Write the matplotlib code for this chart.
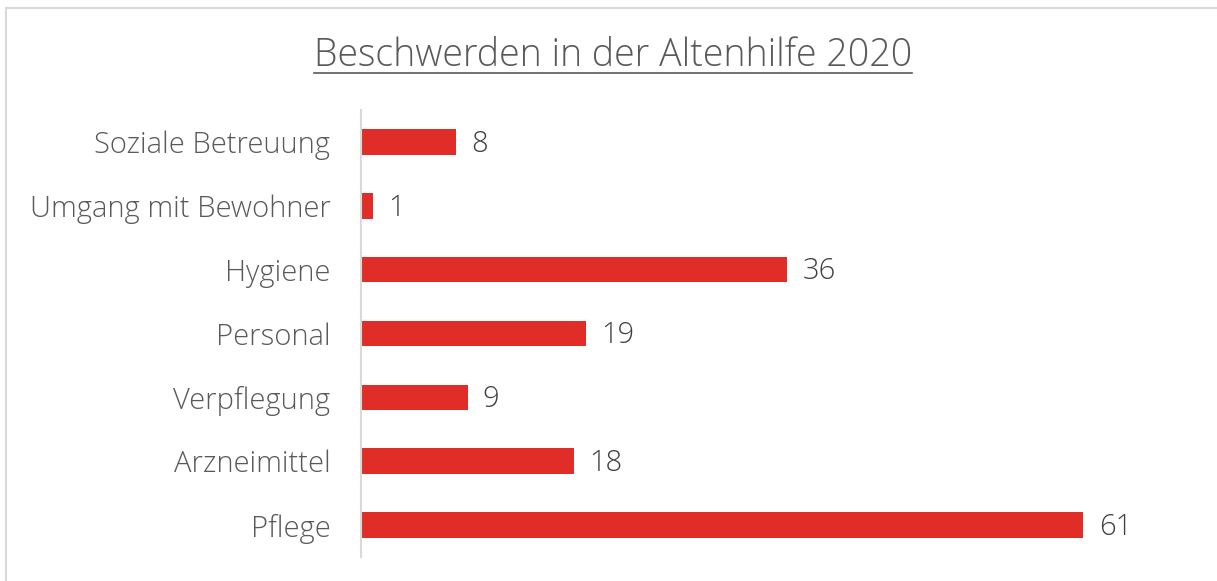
import matplotlib
matplotlib.use("Agg")
import matplotlib.pyplot as plt
from matplotlib.lines import Line2D

categories = ["Pflege", "Arzneimittel", "Verpflegung", "Personal", "Hygiene",
              "Umgang mit Bewohner", "Soziale Betreuung"]
values = [61, 18, 9, 19, 36, 1, 8]
title = "Beschwerden in der Altenhilfe 2020"

plt.rcParams['font.family'] = ['Open Sans', 'DejaVu Sans']

W, H = 1217, 581
fig = plt.figure(figsize=(W / 100, H / 100), dpi=100)
fig.patch.set_facecolor("white")

ax = fig.add_axes([361 / W, 1 - 557 / H, (1190 - 361) / W, (557 - 110) / H])
bar_color = "#E02D28"
ypos = list(range(len(categories)))
ax.barh(ypos, values, height=0.4, color=bar_color)
ax.set_xlim(0, 70)
ax.set_ylim(-0.5, len(categories) - 0.5)
ax.set_yticks(ypos)
ax.set_yticklabels(categories, fontsize=21, color="#595959", fontweight="light")
ax.tick_params(axis="y", length=0, pad=22)
ax.set_xticks([])
for s in ["top", "right", "bottom"]:
    ax.spines[s].set_visible(False)
ax.spines["left"].set_color("#D9D9D9")
ax.spines["left"].set_linewidth(1.5)

for y, v in zip(ypos, values):
    ax.annotate(str(v), (v, y), xytext=(11, -1.5), textcoords="offset points",
                va="center", ha="left", fontsize=21, color="#404040", fontweight="light")

t = fig.text(613 / W, 1 - 56 / H, title, ha="center", va="center",
             fontsize=27, color="#595959", fontweight="light")

# figure border (cropped chart frame)
fig.add_artist(Line2D([6 / W, 1], [1 - 8 / H, 1 - 8 / H], color="#D9D9D9", lw=1.5,
                      transform=fig.transFigure))
fig.add_artist(Line2D([6 / W, 6 / W], [0, 1 - 8 / H], color="#D9D9D9", lw=1.5,
                      transform=fig.transFigure))

# underline title
fig.canvas.draw()
bb = t.get_window_extent(renderer=fig.canvas.get_renderer())
uy = bb.y0 + 2
fig.add_artist(Line2D([bb.x0 / W, bb.x1 / W], [uy / H, uy / H], color="#595959", lw=1.2,
                      transform=fig.transFigure))

fig.savefig("out.png", dpi=100)
